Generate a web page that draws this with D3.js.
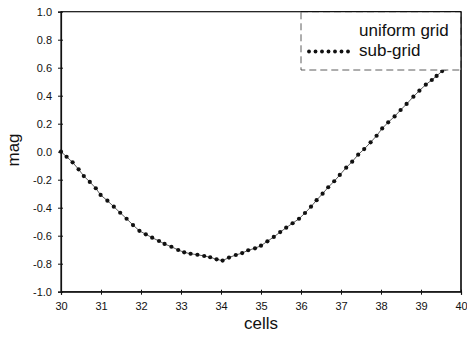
<!DOCTYPE html>
<html>
<head>
<meta charset="utf-8">
<script src="https://cdn.jsdelivr.net/npm/d3@7"></script>
<style>
  html, body { margin: 0; padding: 0; background: #fff; }
  svg { display: block; font-family: "Liberation Sans", Arial, Helvetica, sans-serif; }
</style>
</head>
<body>
<svg id="chart" width="467" height="342"></svg>
<script>
// ---- data ----
const cells = [30.00, 30.14, 30.29, 30.44, 30.57, 30.72, 30.87, 30.99, 31.16, 31.32, 31.48, 31.64, 31.80, 31.96,
  32.12, 32.28, 32.45, 32.59, 32.76, 32.93, 33.08, 33.24, 33.41, 33.58, 33.73, 33.89, 34.04, 34.20, 34.37,
  34.53, 34.68, 34.85, 35.00, 35.16, 35.32, 35.48, 35.63, 35.79, 35.95, 36.10, 36.25, 36.39, 36.54, 36.68,
  36.83, 36.97, 37.13, 37.28, 37.43, 37.58, 37.74, 37.89, 38.03, 38.18, 38.34, 38.49, 38.64, 38.81, 38.96,
  39.12, 39.27, 39.39, 39.53, 39.61];
const mag = [0.000, -0.036, -0.076, -0.126, -0.174, -0.216, -0.261, -0.309, -0.350, -0.393, -0.436, -0.479, -0.524, -0.565,
  -0.590, -0.614, -0.638, -0.659, -0.679, -0.702, -0.719, -0.729, -0.736, -0.745, -0.754, -0.769, -0.778, -0.756, -0.738,
  -0.724, -0.704, -0.690, -0.671, -0.640, -0.609, -0.574, -0.543, -0.511, -0.479, -0.438, -0.393, -0.346, -0.300, -0.254,
  -0.211, -0.166, -0.114, -0.071, -0.021, 0.019, 0.067, 0.114, 0.166, 0.210, 0.252, 0.298, 0.341, 0.393, 0.436,
  0.479, 0.512, 0.541, 0.576, 0.595];
const seriesNames = ["uniform grid", "sub-grid"];
const xTicks = [30, 31, 32, 33, 34, 35, 36, 37, 38, 39, 40];
const yTicks = [-1.0, -0.8, -0.6, -0.4, -0.2, 0.0, 0.2, 0.4, 0.6, 0.8, 1.0];
const xTitle = "cells";
const yTitle = "mag";

// ---- layout ----
const svg = d3.select("#chart");
const pL = 61, pR = 461, pT = 11.7, pB = 291.7;
const x = d3.scaleLinear().domain([30, 40]).range([pL, pR]);
const y = d3.scaleLinear().domain([-1, 1]).range([pB, pT]);
const pts = cells.map((c, i) => ({ x: c, y: mag[i] }));

// frame
svg.append("rect")
  .attr("x", pL).attr("y", pT)
  .attr("width", pR - pL).attr("height", pB - pT)
  .attr("fill", "none").attr("stroke", "#111").attr("stroke-width", 1.2);

// axes
const fmtY = d => d.toFixed(1);
const yAxis = svg.append("g").attr("transform", `translate(${pL},0)`)
  .call(d3.axisLeft(y).tickValues(yTicks).tickFormat(fmtY).tickSize(3).tickPadding(6));
yAxis.select(".domain").attr("stroke", "#111").attr("stroke-width", 1.2);
yAxis.selectAll(".tick line").attr("x1", 2).attr("x2", -3).attr("stroke", "#111");
yAxis.selectAll(".tick text").attr("font-size", 11).attr("fill", "#111")
  .attr("font-family", "'Liberation Sans', Arial, sans-serif");

const xAxis = svg.append("g").attr("transform", `translate(0,${pB})`)
  .call(d3.axisBottom(x).tickValues(xTicks).tickFormat(d3.format("d")).tickSize(3).tickPadding(8));
xAxis.select(".domain").attr("stroke", "#111").attr("stroke-width", 1.2);
xAxis.selectAll(".tick line").attr("y1", -2).attr("y2", 3).attr("stroke", "#111");
xAxis.selectAll(".tick text").attr("font-size", 11).attr("fill", "#111")
  .attr("font-family", "'Liberation Sans', Arial, sans-serif");

// axis titles
svg.append("text").attr("x", (pL + pR) / 2).attr("y", 329)
  .attr("text-anchor", "middle").attr("font-size", 17).attr("fill", "#111").text(xTitle);
svg.append("text").attr("transform", `translate(18.5,150) rotate(-90)`)
  .attr("text-anchor", "middle").attr("font-size", 17).attr("fill", "#111").text(yTitle);

// uniform grid line
const line = d3.line().x(d => x(d.x)).y(d => y(d.y));
svg.append("path").datum(pts)
  .attr("d", line).attr("fill", "none").attr("stroke", "#333").attr("stroke-width", 0.8);

// sub-grid dots
svg.append("g").selectAll("circle").data(pts).join("circle")
  .attr("cx", d => x(d.x)).attr("cy", d => y(d.y)).attr("r", 2.1).attr("fill", "#111");

// legend
const lg = svg.append("g");
lg.append("rect").attr("x", 301).attr("y", pT).attr("width", pR - 301).attr("height", 70 - pT)
  .attr("fill", "#fff").attr("stroke", "#333").attr("stroke-width", 0.8).attr("stroke-dasharray", "7,4");
svg.append("line").attr("x1", pR).attr("x2", pR).attr("y1", pT).attr("y2", pB)
  .attr("stroke", "#111").attr("stroke-width", 1.2);
svg.append("line").attr("x1", 301).attr("x2", pR).attr("y1", pT).attr("y2", pT)
  .attr("stroke", "#111").attr("stroke-width", 1.2);
lg.append("text").attr("x", 359).attr("y", 35.5).attr("font-size", 17).attr("fill", "#111").text(seriesNames[0]);
lg.append("text").attr("x", 359).attr("y", 56).attr("font-size", 17).attr("fill", "#111").text(seriesNames[1]);
lg.selectAll("circle.leg").data(d3.range(7)).join("circle").attr("class", "leg")
  .attr("cx", i => 309 + i * 6.5).attr("cy", 51.5).attr("r", 1.9).attr("fill", "#111");
</script>
</body>
</html>
